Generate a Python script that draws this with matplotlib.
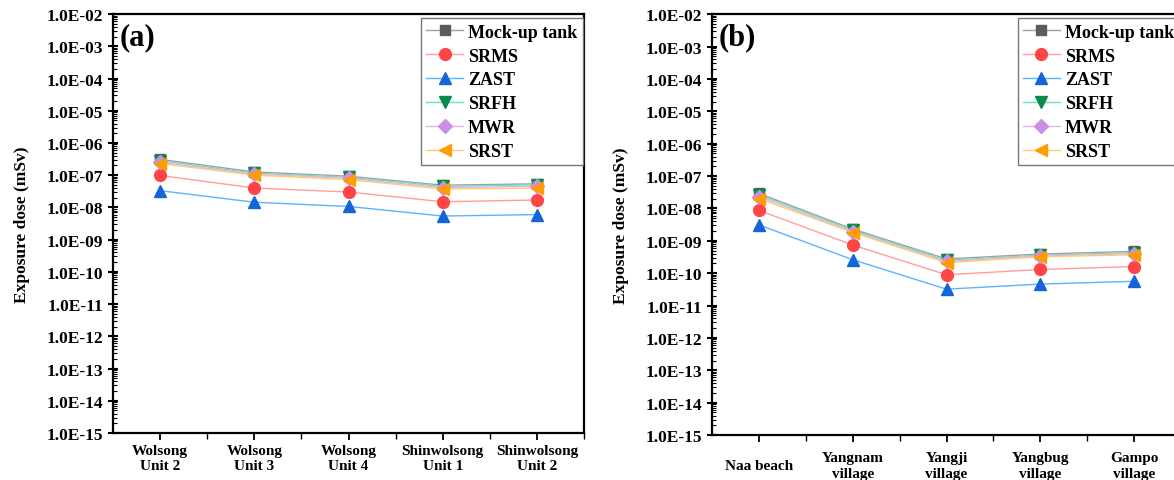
import matplotlib
matplotlib.use('Agg')
import matplotlib.pyplot as plt
import matplotlib.ticker as mticker
import numpy as np

plt.rcParams['font.family'] = ['Liberation Serif', 'DejaVu Serif']
plt.rcParams['font.weight'] = 'bold'
plt.rcParams['axes.labelweight'] = 'bold'

# data
sitesA = ['Wolsong\nUnit 2', 'Wolsong\nUnit 3', 'Wolsong\nUnit 4', 'Shinwolsong\nUnit 1', 'Shinwolsong\nUnit 2']
sitesB = ['Naa beach', 'Yangnam\nvillage', 'Yangji\nvillage', 'Yangbug\nvillage', 'Gampo\nvillage']
names = ['Mock-up tank', 'SRMS', 'ZAST', 'SRFH', 'MWR', 'SRST']

mockA = [3.1e-7, 1.26e-7, 9.3e-8, 4.9e-8, 5.4e-8]
srmsA = [9.8e-8, 4.0e-8, 3.0e-8, 1.5e-8, 1.7e-8]
zastA = [3.3e-8, 1.45e-8, 1.07e-8, 5.4e-9, 6.0e-9]
srfhA = [2.8e-7, 1.15e-7, 8.6e-8, 4.5e-8, 5.0e-8]
mwrA = [2.5e-7, 1.08e-7, 8.0e-8, 4.1e-8, 4.5e-8]
srstA = [2.3e-7, 1.0e-7, 7.3e-8, 3.7e-8, 4.0e-8]

mockB = [2.9e-8, 2.3e-9, 2.75e-10, 3.9e-10, 4.7e-10]
srmsB = [8.7e-9, 7.4e-10, 8.9e-11, 1.3e-10, 1.6e-10]
zastB = [3.1e-9, 2.6e-10, 3.2e-11, 4.6e-11, 5.6e-11]
srfhB = [2.6e-8, 2.1e-9, 2.5e-10, 3.6e-10, 4.3e-10]
mwrB = [2.3e-8, 1.9e-9, 2.3e-10, 3.4e-10, 4.0e-10]
srstB = [2.0e-8, 1.8e-9, 2.1e-10, 3.2e-10, 3.7e-10]

markers = ['s', 'o', '^', 'v', 'D', '<']
mcolors = ['#5c5c5c', '#ff4545', '#1565d8', '#0b8a4c', '#c98fe0', '#ff9c00']
lcolors = ['#a0a0a0', '#ff9e9e', '#5ab4ff', '#6fe0bf', '#e2b3f0', '#ffcd6a']
msizes = [7, 8.5, 8.5, 8.5, 7, 8.5]


def fmt(v, pos):
    e = int(round(np.log10(v)))
    return '1.0E-%02d' % (-e)


def panel(ax, sites, series, tag, pad):
    x = np.arange(1, len(sites) + 1)
    for k, ys in enumerate(series):
        ax.plot(x, ys, color=lcolors[k], lw=1.0, marker=markers[k], ms=msizes[k],
                mfc=mcolors[k], mec=mcolors[k], label=names[k])
    ax.set_yscale('log')
    ax.set_ylim(1e-15, 1e-2)
    ax.set_xlim(0.5, 5.5)
    ax.yaxis.set_major_locator(mticker.FixedLocator([10.0 ** -e for e in range(2, 16)]))
    ax.yaxis.set_major_formatter(mticker.FuncFormatter(fmt))
    ax.yaxis.set_minor_locator(mticker.LogLocator(base=10, subs=np.arange(2, 10), numticks=30))
    ax.yaxis.set_minor_formatter(mticker.NullFormatter())
    ax.set_xticks(x)
    ax.set_xticklabels(sites, fontsize=11, va='center', linespacing=1.25)
    ax.set_xticks(np.arange(1.5, 5.6, 1.0), minor=True)
    ax.tick_params(axis='x', which='major', direction='out', length=5, width=1.3, pad=pad)
    ax.tick_params(axis='x', which='minor', direction='out', length=4, width=1.0)
    ax.tick_params(axis='y', which='major', direction='inout', length=7, width=1.5, labelsize=12.5)
    ax.tick_params(axis='y', which='minor', direction='in', length=3, width=0.8)
    for s in ax.spines.values():
        s.set_linewidth(1.6)
    ax.set_ylabel('Exposure dose (mSv)', fontsize=12.5, fontweight='bold', labelpad=12)
    ax.text(0.015, 0.98, tag, transform=ax.transAxes, fontsize=22, fontweight='bold',
            va='top', ha='left')
    leg = ax.legend(loc='upper right', bbox_to_anchor=(0.997, 0.99), fontsize=13,
                    frameon=True, fancybox=False, edgecolor='#777777', framealpha=1,
                    labelspacing=0.38, handlelength=2.0, handletextpad=0.3,
                    borderpad=0.3, borderaxespad=0)
    leg.get_frame().set_linewidth(1.0)


fig = plt.figure(figsize=(11.74, 4.81), dpi=100)
axA = fig.add_axes([0.0963, 0.0977, 0.4012, 0.871])
axB = fig.add_axes([0.6065, 0.0935, 0.3995, 0.875])

panel(axA, sitesA, [mockA, srmsA, zastA, srfhA, mwrA, srstA], '(a)', 13)
panel(axB, sitesB, [mockB, srmsB, zastB, srfhB, mwrB, srstB], '(b)', 17)

fig.savefig('out.png', dpi=100)
